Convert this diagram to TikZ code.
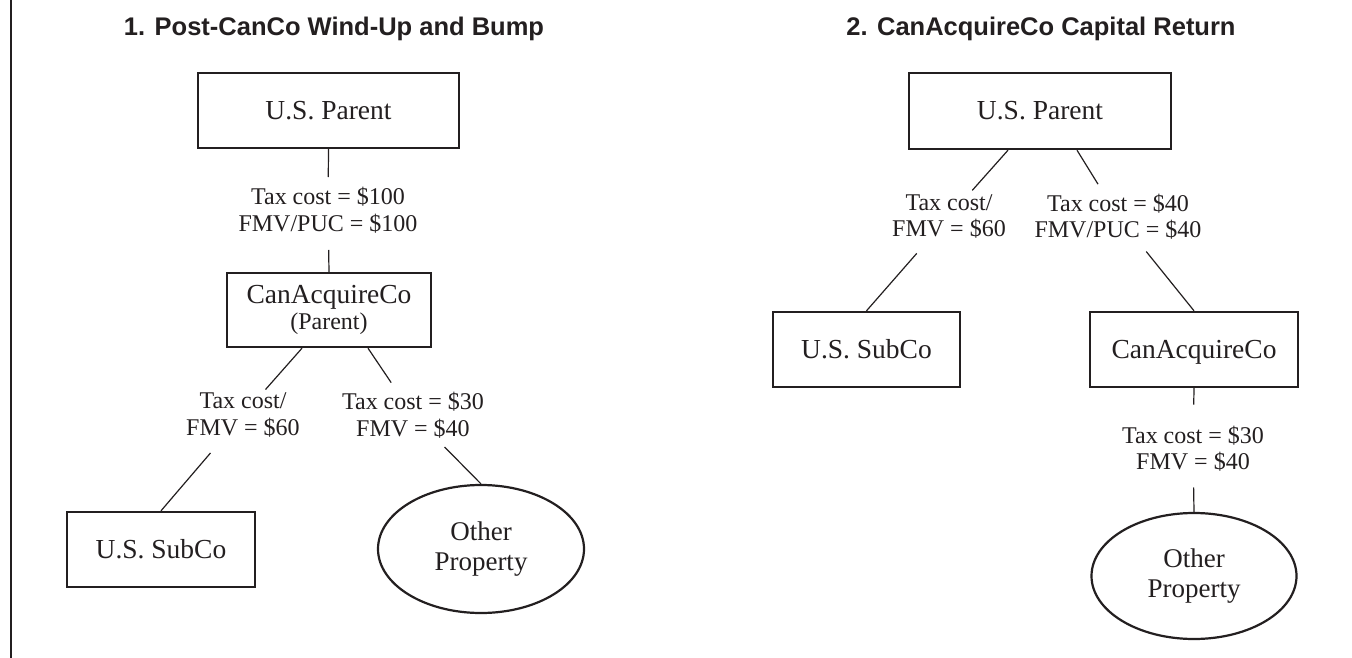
\documentclass[tikz,border=0pt]{standalone}
\usepackage{fontspec}
\setmainfont{Liberation Serif}
\newfontfamily\titlefont{Liberation Sans}
\usetikzlibrary{shapes.geometric}
\definecolor{ink}{HTML}{231F20}
\tikzset{
  entity/.style={draw=ink, line width=2.4pt, inner sep=0pt, align=center, text=ink,
    font=\fontsize{27.5}{30}\selectfont},
  oneline/.style={text height=18pt, text depth=0pt},
  lbl/.style={align=center, inner sep=0pt, text=ink, font=\fontsize{24}{26.5}\selectfont},
  prop/.style={ellipse, draw=ink, line width=2.2pt, minimum width=206pt, minimum height=128pt,
    inner sep=0pt, align=center, text=ink, font=\fontsize{27}{30}\selectfont},
  conn/.style={draw=ink, line width=1.2pt},
  ttl/.style={font=\titlefont\bfseries\fontsize{25.5}{30}\selectfont, inner sep=0pt, anchor=base, text=ink}
}
\begin{document}
\begin{tikzpicture}[x=1pt,y=-1pt]
\useasboundingbox (0,0) rectangle (1352,658);
\fill[white] (0,0) rectangle (1352,658);
\draw[ink, line width=1.5pt] (11,0) -- (11,658);

% titles
\node[ttl] (t1) at (334,36) {1. Post-CanCo Wind-Up and Bump};
\node[ttl] (t2) at (1041,36) {2. CanAcquireCo Capital Return};

% panel 1
\node[entity, oneline, minimum width=261pt, minimum height=75pt] (p1) at (328.5,110.5) {U.S. Parent};
\node[lbl] (L1) at (328,210) {Tax cost = \$100\\FMV/PUC = \$100};
\node[entity, minimum width=204pt, minimum height=74pt] (ca1) at (329,310)
  {CanAcquireCo\\[-4pt]{\fontsize{24}{26}\selectfont (Parent)}};
\node[lbl] (L2) at (243,415) {Tax cost/\\FMV = \$60};
\node[lbl] (L3) at (413,415) {Tax cost = \$30\\FMV = \$40};
\node[entity, oneline, minimum width=188pt, minimum height=75pt] (sub1) at (161,549.5) {U.S. SubCo};
\node[prop] (o1) at (481,549) {Other\\Property};

\draw[conn, shorten >=33pt] (p1.south) -- (L1.center);
\draw[conn, shorten >=40pt] (ca1.north) -- (L1.center);
\draw[conn, shorten >=34pt] ([xshift=-27pt]ca1.south) -- (L2.center);
\draw[conn, shorten <=50pt] (L2.center) -- (sub1.north);
\draw[conn, shorten >=39pt] ([xshift=39pt]ca1.south) -- (L3.center);
\draw[conn, shorten <=45pt] (L3.center) -- (o1.north);

% panel 2
\node[entity, oneline, minimum width=262pt, minimum height=76pt] (p2) at (1040,111) {U.S. Parent};
\node[lbl] (L4) at (949,216.5) {Tax cost/\\FMV = \$60};
\node[lbl] (L5) at (1118,216.5) {Tax cost = \$40\\FMV/PUC = \$40};
\node[entity, oneline, minimum width=187pt, minimum height=75pt] (sub2) at (866.5,349.5) {U.S. SubCo};
\node[entity, oneline, minimum width=208pt, minimum height=75pt] (ca2) at (1194,349.5) {CanAcquireCo};
\node[lbl] (L6) at (1193,448.5) {Tax cost = \$30\\FMV = \$40};
\node[prop, minimum width=205pt, minimum height=126pt] (o2) at (1194,576) {Other\\Property};

\draw[conn, shorten >=35pt] ([xshift=-32pt]p2.south) -- (L4.center);
\draw[conn, shorten >=38pt] ([xshift=37pt]p2.south) -- (L5.center);
\draw[conn, shorten <=49pt] (L4.center) -- (sub2.north);
\draw[conn, shorten <=45pt] (L5.center) -- (ca2.north);
\draw[conn, shorten >=44pt] (ca2.south) -- (L6.center);
\draw[conn, shorten >=39pt] (o2.north) -- (L6.center);
\end{tikzpicture}
\end{document}
